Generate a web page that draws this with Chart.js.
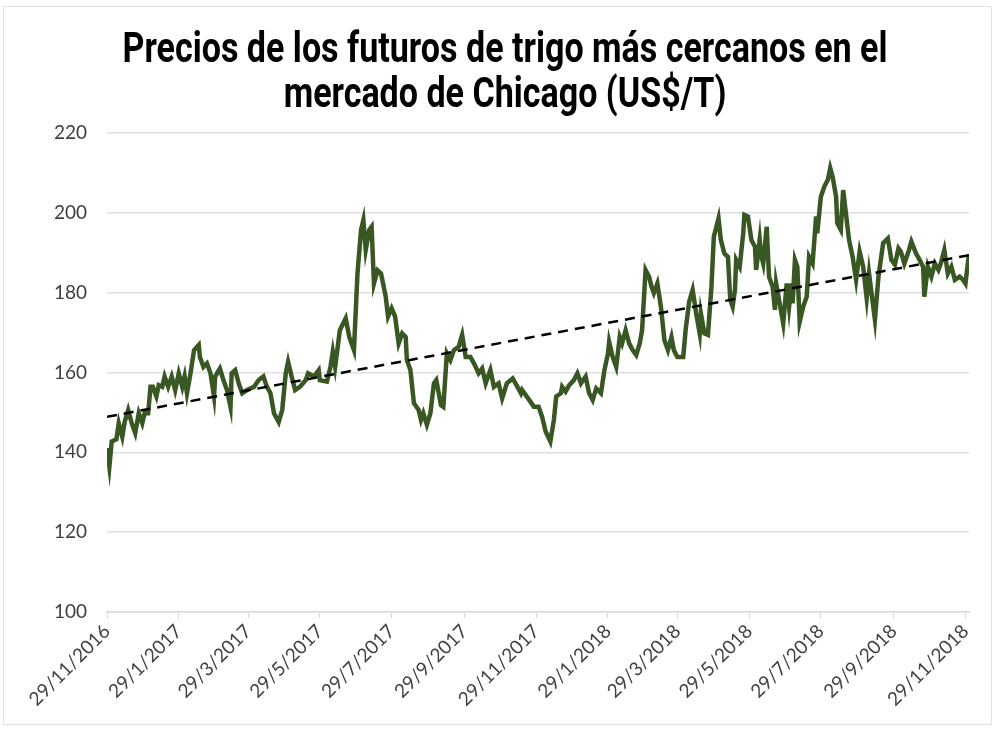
<!DOCTYPE html>
<html>
<head>
<meta charset="utf-8">
<script src="https://cdn.jsdelivr.net/npm/chart.js@4/dist/chart.umd.min.js"></script>
<style>
  html, body { margin: 0; padding: 0; background: #ffffff; }
  #wrap { width: 995px; height: 729px; position: relative; }
</style>
</head>
<body>
<div id="wrap"><canvas id="c" width="995" height="729"></canvas></div>
<script>
// Título
const titulo = ['Precios de los futuros de trigo más cercanos en el', 'mercado de Chicago (US$/T)'];

// Etiquetas del eje X (fechas)
const etiquetasX = ['29/11/2016','29/1/2017','29/3/2017','29/5/2017','29/7/2017','29/9/2017','29/11/2017',
                    '29/1/2018','29/3/2018','29/5/2018','29/7/2018','29/9/2018','29/11/2018'];

// Días transcurridos desde el 29/11/2016 para cada observación
const dias = [0,2,4,8,10,13,15,18,21,24,27,30,32,35,37,39,42,44,47,49,52,55,58,61,64,66,68,71,74,78,
  79,82,85,88,91,92,96,99,102,105,106,109,112,115,119,125,129,133,136,139,142,146,149,152,154,157,160,164,169,171,176,180,
  181,187,190,192,194,198,203,206,210,213,216,218,220,223,225,227,230,233,237,239,242,245,248,251,254,255,258,261,265,267,
  269,272,275,278,280,284,286,289,292,295,299,302,305,309,312,316,319,322,326,329,333,336,340,345,349,352,
  353,360,363,367,370,373,377,380,382,386,387,390,393,397,400,403,407,410,413,416,420,423,426,427,430,433,436,438,441,444,
  447,450,453,455,458,461,463,465,468,471,474,477,480,482,485,490,492,495,498,501,504,505,508,511,514,516,520,
  522,525,528,530,532,534,535,538,541,542,545,548,551,552,555,556,558,561,562,563,566,568,569,572,575,578,580,582,583,585,
  587,589,592,595,597,600,603,604,607,610,613,615,617,620,621,624,626,628,631,634,637,640,643,646,648,653,656,660,664,667,
  670,673,675,678,682,684,688,691,694,695,698,701,704,707,709,712,715,718,721,725,728,730,732,733];

// Precio del futuro de trigo más cercano (US$/T)
const precios = [141.1,136.4,142.7,143.3,147.3,143.9,147.6,150.6,147.3,144.8,149.8,147.3,149.8,149.8,156.4,156.4,154.0,156.8,156.4,159.0,
  156.4,159.0,155.6,159.8,156.4,159.0,154.8,159.8,165.6,166.9,163.9,161.4,162.3,159.8,154.0,159.0,161.0,158.1,155.6,151.4,
  159.8,160.6,157.3,154.8,155.6,156.4,158.1,159.0,156.4,154.8,149.8,147.6,150.6,159.8,162.7,159.0,155.6,156.4,158.1,159.8,159.0,160.6,
  158.1,157.7,161.4,165.2,161.4,170.6,173.6,168.9,165.6,184.8,195.7,198.2,190.7,195.7,196.5,182.3,185.6,184.8,179.0,174.0,
  176.1,174.0,167.3,169.8,168.9,163.1,160.6,152.3,150.6,148.1,149.8,146.9,149.8,157.3,158.1,151.8,151.4,164.8,163.1,165.6,
  166.4,169.4,163.9,163.9,162.3,159.8,161.0,157.3,160.6,156.4,157.3,153.5,157.3,158.5,156.4,154.8,
  155.6,152.7,151.4,151.4,148.9,145.2,142.7,148.1,154.0,154.8,156.4,155.2,156.8,158.1,159.8,157.3,159.0,154.8,153.1,156.0,
  154.8,160.6,164.8,167.7,163.9,161.4,168.9,167.3,170.6,167.3,165.6,164.4,167.3,170.6,185.7,184.0,181.5,179.9,182.3,176.5,
  168.1,165.6,168.9,165.6,163.9,163.9,170.6,177.7,180.7,174.8,169.8,174.8,169.8,169.4,181.5,194.0,198.6,
  193.2,189.8,189.0,178.2,176.5,180.7,188.2,186.5,194.9,199.5,199.1,193.2,191.5,185.7,193.2,189.8,187.3,196.5,189.8,183.9,
  181.5,175.7,182.3,177.3,172.3,182.3,176.5,182.3,177.3,188.2,186.5,172.7,176.5,179.0,189.0,187.3,199.1,194.9,204.0,206.6,
  208.3,211.2,209.1,204.0,197.4,195.7,205.7,200.7,193.2,189.0,183.2,190.3,186.5,178.6,184.8,173.2,184.0,192.4,193.6,188.2,
  187.0,191.1,190.3,187.3,190.7,192.8,189.8,188.2,186.5,179.0,186.5,184.0,187.3,185.7,187.3,190.7,184.8,186.5,183.2,184.0,
  183.2,182.3,187.3,189.4];

const tendenciaDias = [0, 733];
const tendenciaValores = [148.9, 189.4];

// Eje Y
const yMin = 100, yMax = 220, yPaso = 20;

// --- construcción ---
function diasDesdeInicio(etq) {
  const [d, m, a] = etq.split('/').map(Number);
  const [d0, m0, a0] = etiquetasX[0].split('/').map(Number);
  return Math.round((Date.UTC(a, m - 1, d) - Date.UTC(a0, m0 - 1, d0)) / 86400000);
}
const ticksDias = etiquetasX.map(diasDesdeInicio);

const serie = dias.map((d, i) => ({ x: d, y: precios[i] }));
const tendencia = tendenciaDias.map((d, i) => ({ x: d, y: tendenciaValores[i] }));

const marco = {
  id: 'marco',
  beforeDraw(chart) {
    const ctx = chart.ctx;
    ctx.save();
    ctx.fillStyle = '#ffffff';
    ctx.fillRect(0, 0, chart.width, chart.height);
    ctx.strokeStyle = '#e3e3e3';
    ctx.lineWidth = 1;
    ctx.strokeRect(3.5, 6.5, 988, 718);
    ctx.restore();
  }
};

// Título en letra estrecha (condensada horizontalmente)
const tituloCondensado = {
  id: 'tituloCondensado',
  afterDraw(chart) {
    const ctx = chart.ctx;
    ctx.save();
    ctx.font = 'bold 43px Roboto, "Liberation Sans", sans-serif';
    ctx.fillStyle = '#000000';
    ctx.textAlign = 'center';
    ctx.textBaseline = 'alphabetic';
    const ancho1 = ctx.measureText(titulo[0]).width;
    const sx = 765 / ancho1;
    const cx = 505;
    const bases = [62, 107];
    titulo.forEach((t, i) => {
      ctx.save();
      ctx.translate(cx, bases[i]);
      ctx.scale(sx, 1);
      ctx.fillText(t, 0, 0);
      ctx.restore();
    });
    ctx.restore();
  }
};

const tickFont = { family: 'Lato, "Open Sans", sans-serif', size: 19 };

new Chart(document.getElementById('c'), {
  type: 'line',
  data: {
    datasets: [
      {
        label: 'Precio',
        data: serie,
        borderColor: '#385723',
        borderWidth: 4.5,
        pointRadius: 0,
        tension: 0,
        fill: false,
        order: 2
      },
      {
        label: 'Tendencia',
        data: tendencia,
        borderColor: '#000000',
        borderWidth: 2.5,
        borderDash: [10, 7],
        pointRadius: 0,
        fill: false,
        order: 1
      }
    ]
  },
  options: {
    responsive: false,
    animation: false,
    layout: { padding: { left: 0, right: 26, top: 133, bottom: 0 } },
    plugins: {
      legend: { display: false },
      tooltip: { enabled: false },
      title: { display: false }
    },
    scales: {
      x: {
        type: 'linear',
        min: 0,
        max: 733,
        afterBuildTicks(scale) { scale.ticks = ticksDias.map(v => ({ value: v })); },
        afterFit(scale) { scale.height = 117; },
        ticks: {
          autoSkip: false,
          maxRotation: 45,
          minRotation: 45,
          padding: 2,
          color: '#404040',
          font: tickFont,
          callback: (v, i) => etiquetasX[i]
        },
        grid: { drawOnChartArea: false, drawTicks: true, tickLength: 6, color: '#d9d9d9' },
        border: { display: true, color: '#d9d9d9', width: 1.5 }
      },
      y: {
        min: yMin,
        max: yMax,
        afterFit(scale) { scale.width = 107; },
        ticks: { stepSize: yPaso, padding: 20, color: '#404040', font: tickFont },
        grid: { color: '#e0e0e0', lineWidth: 1.5, drawTicks: false },
        border: { display: false }
      }
    }
  },
  plugins: [marco, tituloCondensado]
});
</script>
</body>
</html>
